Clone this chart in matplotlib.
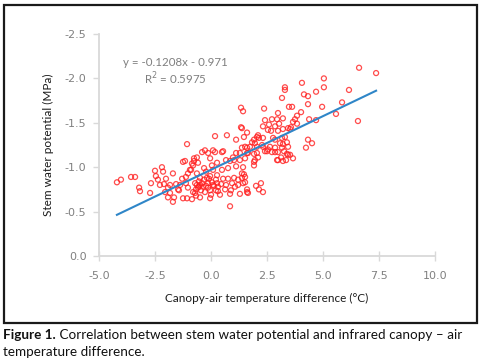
import matplotlib
matplotlib.use("Agg")
import matplotlib.pyplot as plt
from matplotlib.patches import Rectangle
import numpy as np

# Canopy-air temperature difference (°C)
temp_diff = [
    -4.20, -4.02, -3.57, -3.39, -3.21, -3.17, -2.72, -2.68, -2.50, -2.46,
    -2.37, -2.28, -2.19, -2.14, -2.01, -2.10, -1.92, -2.05, -1.92, -1.70,
    -1.65, -1.70, -1.83, -1.56, -1.47, -1.29, -1.25, -1.16, -1.03, -1.12,
    -0.94, -0.85, -0.76, -0.63, -1.12, -1.03, -1.25, -1.07, -0.85, -0.80,
    -0.63, -0.71, -0.54, -1.38, -1.43, -1.07, -0.76, -0.58, -0.80, -0.89,
    -0.63, -1.83, -0.49, -0.67, -0.49, -0.58, -0.71, -0.40, -0.13, -0.04,
    0.18, 0.49, 0.27, 0.85, 1.03, 1.12, 1.52, 1.65, -0.27, 0.09,
    0.54, 0.67, 0.98, 1.29, 1.38, 1.52, 1.12, -0.22, 0.09, 0.27,
    -0.18, -0.49, -0.36, -0.27, -0.04, -0.09, 0.04, -0.13, 0.00, -0.40,
    0.27, 0.31, 0.31, 0.54, 0.63, 0.76, 0.94, 0.89, 0.85, 1.03,
    1.21, 1.38, 1.47, 1.52, 1.07, 1.21, 1.61, 1.65, 1.29, 0.85,
    0.18, 0.71, 1.12, 1.47, 1.34, 1.61, 1.34, 1.43, 1.38, 1.52,
    1.43, 1.43, 1.61, 1.61, 0.13, 0.40, 0.67, 0.49, 0.76, 0.04,
    -0.31, -0.04, 0.22, 1.29, 1.92, 1.92, 2.05, 2.50, 2.86, 2.99,
    3.21, 3.35, 3.44, 2.23, 2.14, 2.32, 2.01, 1.61, 3.17, 2.37,
    2.99, 3.48, 2.41, 2.72, 2.95, 3.21, 2.32, 2.59, 2.86, 3.04,
    3.44, 2.54, 2.68, 2.99, 2.05, 2.14, 1.92, 1.83, 1.96, 2.32,
    2.77, 2.86, 3.17, 3.21, 3.39, 1.74, 2.05, 2.28, 2.63, 2.86,
    3.17, 1.92, 2.41, 2.54, 2.72, 2.99, 3.26, 3.39, 3.13, 1.96,
    2.10, 6.61, 7.37, 5.04, 4.06, 5.04, 6.16, 4.69, 4.15, 4.33,
    3.30, 3.30, 4.33, 5.85, 3.62, 4.96, 4.02, 3.84, 3.75, 5.58,
    4.38, 4.69, 6.56, 3.66, 3.84, 3.57, 3.53, 3.30, 4.33, 4.51,
    4.24, 3.44, 3.53, 3.66, 2.95, 1.38, 2.10, 3.08, 2.32, 3.21,
    -0.54, -0.31, -0.22, -0.45, -0.67, -0.13, 0.09, 0.22, 0.45, -0.04,
]

# Stem water potential (MPa)
stem_wp = [
    -0.83, -0.86, -0.89, -0.89, -0.77, -0.73, -0.71, -0.82, -0.96, -0.90,
    -0.86, -0.80, -1.00, -0.95, -0.87, -0.81, -0.77, -0.72, -0.66, -0.93,
    -0.66, -0.61, -0.80, -0.81, -0.75, -0.87, -1.06, -1.07, -0.93, -0.89,
    -0.97, -1.04, -1.07, -1.11, -0.82, -0.77, -0.65, -0.65, -0.64, -0.72,
    -0.80, -0.82, -0.78, -0.80, -0.74, -1.26, -1.10, -1.05, -1.02, -0.97,
    -0.93, -0.71, -0.66, -0.68, -0.88, -0.77, -0.71, -1.17, -1.16, -1.10,
    -1.17, -1.17, -1.05, -1.07, -1.08, -1.16, -1.10, -1.16, -1.19, -1.19,
    -1.18, -1.08, -1.11, -1.16, -1.22, -1.23, -1.01, -0.95, -0.97, -0.91,
    -0.88, -0.80, -0.78, -0.72, -0.90, -0.87, -0.83, -0.82, -0.69, -0.82,
    -0.82, -0.78, -0.73, -0.87, -0.75, -0.87, -0.82, -0.74, -0.70, -0.88,
    -0.86, -0.88, -0.92, -0.83, -0.78, -0.80, -0.75, -0.71, -0.70, -0.56,
    -1.35, -1.36, -1.31, -1.34, -1.45, -1.39, -1.67, -1.63, -0.93, -0.89,
    -1.00, -0.82, -1.22, -1.16, -0.79, -0.69, -0.80, -0.97, -0.99, -1.02,
    -0.99, -0.74, -0.86, -1.08, -1.06, -1.02, -1.16, -1.18, -1.17, -1.08,
    -1.07, -1.08, -1.14, -0.82, -0.75, -0.72, -0.79, -0.72, -1.78, -1.66,
    -1.61, -1.68, -1.53, -1.54, -1.54, -1.55, -1.46, -1.48, -1.46, -1.49,
    -1.44, -1.42, -1.41, -1.41, -1.34, -1.33, -1.31, -1.28, -1.27, -1.33,
    -1.33, -1.31, -1.33, -1.26, -1.28, -1.23, -1.23, -1.25, -1.23, -1.22,
    -1.22, -1.15, -1.18, -1.20, -1.17, -1.17, -1.18, -1.15, -1.11, -1.08,
    -1.11, -2.12, -2.06, -2.00, -1.95, -1.90, -1.87, -1.85, -1.82, -1.80,
    -1.90, -1.87, -1.71, -1.73, -1.68, -1.68, -1.62, -1.58, -1.54, -1.60,
    -1.54, -1.53, -1.52, -1.51, -1.49, -1.45, -1.43, -1.34, -1.31, -1.27,
    -1.22, -1.23, -1.14, -1.10, -1.08, -1.44, -1.36, -1.27, -1.23, -1.43,
    -0.84, -0.86, -0.79, -0.74, -0.75, -0.77, -0.80, -0.74, -0.81, -0.65,
]

# Linear trend shown on the chart
slope = -0.1208
intercept = -0.971
equation_text = "y = -0.1208x - 0.971"
r2_text = "R$^2$ = 0.5975"

x_ticks = [-5.0, -2.5, 0.0, 2.5, 5.0, 7.5, 10.0]
y_ticks = [-2.5, -2.0, -1.5, -1.0, -0.5, 0.0]

x_label = "Canopy-air temperature difference (°C)"
y_label = "Stem water potential (MPa)"
caption_bold = "Figure 1."
caption_rest = " Correlation between stem water potential and infrared canopy \u2013 air"
caption_line2 = "temperature difference."

W, H = 489, 364
fig = plt.figure(figsize=(W / 100, H / 100), dpi=100)

# outer frame
fig.patches.append(Rectangle((4 / W, 1 - 323 / H), (477 - 4) / W, (323 - 5) / H,
                             transform=fig.transFigure, fill=False,
                             edgecolor="#1a1a1a", linewidth=1.6))

ax = fig.add_axes([99 / W, 1 - 256 / H, (435 - 99) / W, (256 - 34) / H])

xs = np.array(temp_diff)
ys = np.array(stem_wp)
ax.scatter(xs, ys, s=13, facecolors="none", edgecolors="#ff2020",
           linewidths=0.9, alpha=0.8, zorder=3)

xl = np.array([xs.min(), xs.max()])
ax.plot(xl, slope * xl + intercept, color="#2f86c8", linewidth=1.5, zorder=4)

ax.set_xlim(-5.0, 10.0)
ax.set_ylim(0.0, -2.5)
ax.set_xticks(x_ticks)
ax.set_yticks(y_ticks)
ax.set_xticklabels([f"{v:.1f}" for v in x_ticks])
ax.set_yticklabels([f"{v:.1f}" for v in y_ticks])

for s in ["top", "right"]:
    ax.spines[s].set_visible(False)
for s in ["left", "bottom"]:
    ax.spines[s].set_color("#d9d9d9")
    ax.spines[s].set_linewidth(1.3)

ax.tick_params(axis="both", colors="#d9d9d9", labelcolor="#808080",
               length=4, width=1.0, labelsize=8)
ax.tick_params(axis="x", direction="inout", length=7, pad=7)
ax.tick_params(axis="y", direction="out", length=4, pad=5)

chart_font = "Lato"
ax.set_xlabel(x_label, fontsize=8.5, color="#1a1a1a", labelpad=9,
              family=chart_font)
ax.set_ylabel(y_label, fontsize=8.5, color="#1a1a1a", labelpad=8,
              family=chart_font)

fig.text(175 / W, 1 - 63 / H, equation_text, ha="center", va="center",
         fontsize=8.3, color="#7f7f7f", family=chart_font)
fig.text(175 / W, 1 - 79 / H, r2_text, ha="center", va="center",
         fontsize=8.3, color="#7f7f7f", family=chart_font)

# caption
cap_font = "Lato"
cap_size = 9.75
t1 = fig.text(3 / W, 1 - 335 / H, caption_bold, fontsize=cap_size,
              fontweight="bold", family=cap_font,
              ha="left", va="center", color="#111111")
fig.canvas.draw()
bb = t1.get_window_extent()
fig.text(bb.x1 / W, 1 - 335 / H, caption_rest, fontsize=cap_size,
         family=cap_font, ha="left", va="center", color="#111111")
fig.text(3 / W, 1 - 352 / H, caption_line2, fontsize=cap_size,
         family=cap_font, ha="left", va="center", color="#111111")

fig.savefig("out.png", dpi=100)
